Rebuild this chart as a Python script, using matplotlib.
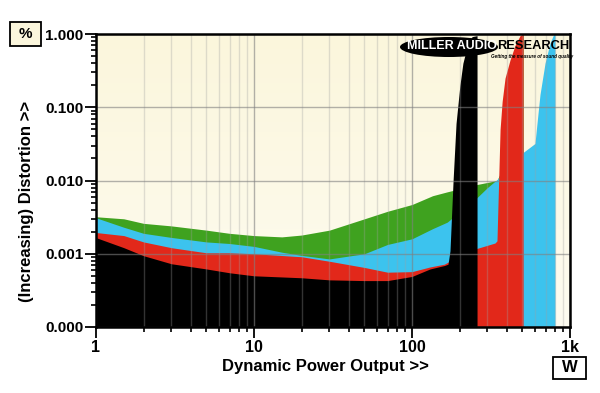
import matplotlib
matplotlib.use("Agg")
import matplotlib.pyplot as plt
import numpy as np
from matplotlib.colors import LinearSegmentedColormap
from matplotlib.patches import Ellipse, Rectangle
from matplotlib.ticker import FixedLocator, FixedFormatter, NullFormatter

# Dynamic power output (W) vs distortion (%) for four loads
green_w = [1, 1.5, 2, 3, 5, 7, 10, 15, 20, 30, 50, 70, 100, 135, 167, 257, 345, 400, 450, 480, 495, 505]
green_thd = [0.0032, 0.0030, 0.0026, 0.0024, 0.0021, 0.0019, 0.00177, 0.0017, 0.0018, 0.0021,
             0.0030, 0.0038, 0.0047, 0.0062, 0.0070, 0.0088, 0.0100, 0.02, 0.2, 0.7, 1.0, 1.0]

cyan_w = [1, 1.5, 2, 3, 5, 7, 10, 15, 20, 30, 50, 70, 100, 135, 167, 257, 300, 345, 503, 600,
          618, 646, 695, 747, 790, 804]
cyan_thd = [0.0031, 0.0023, 0.0019, 0.00167, 0.00145, 0.00138, 0.00126, 0.00105, 0.00095, 0.00085,
            0.0010, 0.00134, 0.0016, 0.0022, 0.0027, 0.0058, 0.0080, 0.0103, 0.024, 0.032,
            0.06, 0.15, 0.4, 0.75, 1.0, 1.0]

red_w = [1, 1.5, 2, 3, 5, 7, 10, 20, 30, 50, 70, 100, 130, 160, 175, 257, 335, 345, 361, 372,
         388, 417, 449, 483, 505]
red_thd = [0.00195, 0.00177, 0.00145, 0.00121, 0.00103, 0.00103, 0.0010, 0.00091, 0.00079, 0.00065,
           0.00056, 0.00057, 0.00066, 0.00072, 0.0008, 0.00118, 0.0014, 0.0015, 0.05, 0.12,
           0.25, 0.44, 0.7, 0.95, 1.0]

black_w = [1, 1.5, 2, 3, 5, 7, 10, 20, 30, 50, 70, 100, 130, 160, 169, 174, 182, 190, 201,
           210, 226, 240, 258]
black_thd = [0.00166, 0.00121, 0.00094, 0.00073, 0.00062, 0.00055, 0.0005, 0.00047, 0.00044,
             0.00043, 0.00043, 0.00049, 0.00062, 0.00069, 0.00072, 0.0011, 0.01, 0.06, 0.2,
             0.4, 0.75, 0.92, 0.95]

x_ticks = [1, 10, 100, 1000]
x_labels = ['1', '10', '100', '1k']
y_ticks = [1e-4, 1e-3, 1e-2, 1e-1, 1]
y_labels = ['0.000', '0.001', '0.010', '0.100', '1.000']

plt.rcParams['font.family'] = ['Liberation Sans', 'DejaVu Sans']
plt.rcParams['font.weight'] = 'bold'

fig = plt.figure(figsize=(6, 3.93), dpi=100)
ax = fig.add_axes([96 / 600, 1 - 327 / 393, 474 / 600, 293 / 393])
ax.set_xscale('log')
ax.set_yscale('log')

# Cream background gradient
grad = np.linspace(0, 1, 256).reshape(-1, 1)
bg = LinearSegmentedColormap.from_list('bg', ['#FEFCF0', '#FBF6DC'])
ax.imshow(grad, extent=[0, 1, 0, 1], transform=ax.transAxes, cmap=bg,
          aspect='auto', origin='lower', zorder=0)

# Filled distortion areas
ax.fill_between(green_w, 1e-4, green_thd, color='#3FA21F', lw=0, zorder=1.0)
ax.fill_between(cyan_w, 1e-4, cyan_thd, color='#3CC3EE', lw=0, zorder=1.1)
ax.fill_between(red_w, 1e-4, red_thd, color='#E2281A', lw=0, zorder=1.2)
ax.fill_between(black_w, 1e-4, black_thd, color='#000000', lw=0, zorder=1.3)

ax.set_xlim(1, 1000)
ax.set_ylim(1e-4, 1)

# Grid over the fills
ax.grid(which='minor', axis='x', color='#A0A0A0', alpha=0.32, lw=1)
ax.grid(which='major', axis='both', color='#808080', alpha=0.6, lw=1)

ax.xaxis.set_major_locator(FixedLocator(x_ticks))
ax.xaxis.set_major_formatter(FixedFormatter(x_labels))
ax.xaxis.set_minor_formatter(NullFormatter())
ax.yaxis.set_major_locator(FixedLocator(y_ticks))
ax.yaxis.set_major_formatter(FixedFormatter(y_labels))
ax.yaxis.set_minor_formatter(NullFormatter())
ax.tick_params(which='major', direction='out', length=8, width=1.3, pad=1)
ax.tick_params(which='minor', direction='out', length=3.5, width=1.2)
ax.tick_params(axis='y', labelsize=11)
ax.tick_params(axis='x', labelsize=11.5)
for s in ax.spines.values():
    s.set_linewidth(1.8)
    s.set_zorder(3)

ax.set_xlabel('Dynamic Power Output >>', fontsize=12, fontweight='bold')
ax.set_ylabel('(Increasing) Distortion >>', fontsize=12, fontweight='bold')
ax.xaxis.set_label_coords((325 - 96) / 474, (327 - 359) / 293)
ax.yaxis.set_label_coords((34 - 96) / 474, (327 - 201) / 293)

# Unit boxes
fig.patches.append(Rectangle((10 / 600, 1 - 46 / 393), 31 / 600, 24 / 393,
                             transform=fig.transFigure, fc='#FBF6DC', ec='black', lw=1.3))
fig.text(25.5 / 600, 1 - 34 / 393, '%', ha='center', va='center', fontsize=11)
fig.patches.append(Rectangle((553 / 600, 1 - 379 / 393), 33 / 600, 22 / 393,
                             transform=fig.transFigure, fc='white', ec='black', lw=1.3))
fig.text(569.5 / 600, 1 - 368 / 393, 'W', ha='center', va='center', fontsize=12)

# Logo
ell = Ellipse(((449 - 96) / 474, (327 - 47) / 293), 98 / 474, 20 / 293,
              transform=ax.transAxes, fc='black', ec='none', zorder=5)
ax.add_patch(ell)
ax.text((407 - 96) / 474, (327 - 46) / 293, 'MILLER AUDIO', transform=ax.transAxes,
        ha='left', va='center', color='white', fontsize=9, fontweight='bold', zorder=6)
ax.text((497 - 96) / 474, (327 - 46) / 293, 'RESEARCH', transform=ax.transAxes,
        ha='left', va='center', color='black', fontsize=9.3, fontweight='bold', zorder=6)
ax.text((491 - 96) / 474, (327 - 56) / 293, 'Getting the measure of sound quality',
        transform=ax.transAxes, ha='left', va='center', color='black', fontsize=3.3,
        fontweight='bold', fontstyle='italic', zorder=6)

fig.savefig('out.png', dpi=100)
plt.close()
